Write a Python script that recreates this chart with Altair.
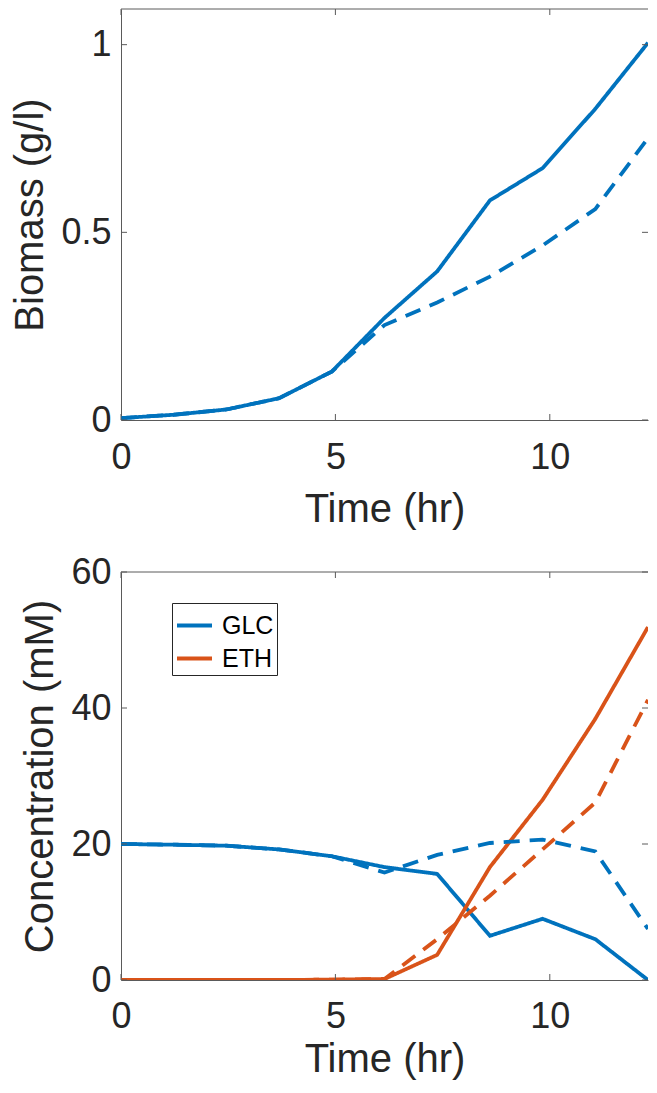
import altair as alt
import pandas as pd

# ---- data ----
time_hr = [0.0, 1.229, 2.458, 3.687, 4.916, 6.145, 7.374, 8.603, 9.832, 11.061, 12.29]
biomass_solid = [0.005, 0.014, 0.028, 0.058, 0.129, 0.272, 0.396, 0.585, 0.671, 0.829, 1.005]
biomass_dashed = [0.005, 0.014, 0.028, 0.058, 0.129, 0.253, 0.313, 0.382, 0.465, 0.562, 0.751]
glc_solid = [20.0, 19.9, 19.75, 19.2, 18.2, 16.6, 15.6, 6.5, 9.0, 6.0, 0.0]
glc_dashed = [20.0, 19.9, 19.75, 19.2, 18.2, 15.8, 18.4, 20.15, 20.65, 18.9, 7.5]
eth_solid = [0.0, 0.0, 0.0, 0.0, 0.05, 0.15, 3.7, 16.6, 26.5, 38.4, 51.9]
eth_dashed = [0.0, 0.0, 0.0, 0.0, 0.05, 0.15, 6.0, 12.4, 19.2, 26.1, 41.2]

x_ticks = [0, 5, 10]
biomass_ticks = [0, 0.5, 1]
conc_ticks = [0, 20, 40, 60]

species = ["GLC", "ETH"]
colors = ["#0072BD", "#D95319"]

# ---- tables ----
bio = pd.concat([
    pd.DataFrame({"t": time_hr, "y": biomass_solid, "scenario": "solid"}),
    pd.DataFrame({"t": time_hr, "y": biomass_dashed, "scenario": "dashed"}),
])
conc = pd.concat([
    pd.DataFrame({"t": time_hr, "y": glc_solid, "species": "GLC", "scenario": "solid"}),
    pd.DataFrame({"t": time_hr, "y": eth_solid, "species": "ETH", "scenario": "solid"}),
    pd.DataFrame({"t": time_hr, "y": glc_dashed, "species": "GLC", "scenario": "dashed"}),
    pd.DataFrame({"t": time_hr, "y": eth_dashed, "species": "ETH", "scenario": "dashed"}),
])
xt = pd.DataFrame({"t": x_ticks})
bt = pd.DataFrame({"y": biomass_ticks})
ct = pd.DataFrame({"y": conc_ticks})
frame = pd.DataFrame({"k": [0]})

W = 527
H1 = 411
H2 = 408
LINE = "#5a5a5a"
TXT = "#262626"
TL = 6
LW = 3.8

dash_scale = alt.Scale(domain=["solid", "dashed"], range=[[1, 0], [16, 10]])


def make_x(lab_pad, title_pad):
    return alt.X("t:Q", scale=alt.Scale(domain=[0, 12.29], nice=False, zero=False),
                 axis=alt.Axis(values=x_ticks, title="Time (hr)", labelExpr="datum.value + ''",
                               labelFlush=False, labelPadding=lab_pad, titlePadding=title_pad))


def make_y(domain, ticks, title):
    return alt.Y("y:Q", scale=alt.Scale(domain=domain, nice=False, zero=False),
                 axis=alt.Axis(values=ticks, title=title, labelExpr="datum.value + ''",
                               labelFlush=False, labelPadding=10, titlePadding=10))


def frame_layers(x, y, tdf, H):
    bottom = alt.Chart(xt).mark_rule(color=LINE, strokeWidth=1).encode(
        x=x, y=alt.value(H), y2=alt.value(H - TL))
    top = alt.Chart(xt).mark_rule(color=LINE, strokeWidth=1).encode(
        x=x, y=alt.value(0), y2=alt.value(TL))
    left = alt.Chart(tdf).mark_rule(color=LINE, strokeWidth=1).encode(
        y=y, x=alt.value(0), x2=alt.value(TL))
    right = alt.Chart(tdf).mark_rule(color=LINE, strokeWidth=1).encode(
        y=y, x=alt.value(W - TL), x2=alt.value(W))
    top_line = alt.Chart(frame).mark_rule(color=LINE, strokeWidth=1).encode(
        x=alt.value(0), x2=alt.value(W), y=alt.value(0))
    return [bottom, top, left, right, top_line]


# ---- top panel ----
x_top = make_x(20, 14)
y_top = make_y([0, 1.095], biomass_ticks, "Biomass (g/l)")
bio_lines = alt.Chart(bio).mark_line(strokeWidth=LW, clip=True, color=colors[0]).encode(
    x=x_top, y=y_top,
    strokeDash=alt.StrokeDash("scenario:N", scale=dash_scale, legend=None),
)
top_chart = alt.layer(bio_lines, *frame_layers(x_top, y_top, bt, H1)).properties(width=W, height=H1)

# ---- bottom panel ----
x_bot = make_x(19, 5)
y_bot = make_y([0, 60], conc_ticks, "Concentration (mM)")
conc_lines = alt.Chart(conc).mark_line(strokeWidth=LW, clip=True).encode(
    x=x_bot, y=y_bot,
    color=alt.Color("species:N", scale=alt.Scale(domain=species, range=colors),
                    legend=alt.Legend(title=None, orient="none", legendX=51, legendY=594,
                                      strokeColor=TXT, fillColor="white", padding=3,
                                      labelFontSize=25, labelFont="Liberation Sans",
                                      labelColor="black", symbolType="stroke",
                                      symbolSize=1225, symbolStrokeWidth=LW,
                                      labelOffset=8, rowPadding=-4, cornerRadius=0)),
    strokeDash=alt.StrokeDash("scenario:N", scale=dash_scale, legend=None),
)
bottom_chart = alt.layer(conc_lines, *frame_layers(x_bot, y_bot, ct, H2)).properties(width=W, height=H2)

chart = alt.vconcat(top_chart, bottom_chart, spacing=23).properties(
    padding={"left": 2, "top": 0, "right": 0, "bottom": 0}, background="white"
).configure_view(
    stroke="transparent"
).configure_axis(
    domain=True, domainColor=LINE, domainWidth=1, ticks=False, grid=False,
    labelFont="Liberation Sans", titleFont="Liberation Sans",
    labelFontSize=36, titleFontSize=40, titleFontWeight="normal",
    labelColor=TXT, titleColor=TXT,
)

chart.save("out.html", embed_options={"renderer": "svg", "actions": False})
